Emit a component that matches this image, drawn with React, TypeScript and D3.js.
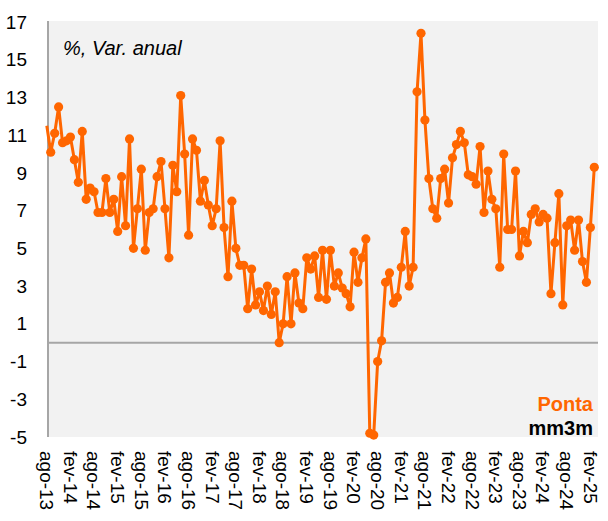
import { line, range, scaleLinear } from 'd3';

// monthly % y/y, ago-13 .. mar-25
const values: number[] = [
  11.5, 10.1, 11.1, 12.5, 10.6, 10.7, 10.9, 9.7, 8.5, 11.2,
  7.6, 8.2, 8.0, 6.9, 6.9, 8.7, 6.9, 7.6, 5.9, 8.8,
  6.2, 10.8, 5.0, 7.1, 9.2, 4.9, 6.9, 7.1, 8.8, 9.6,
  7.1, 4.5, 9.4, 8.0, 13.1, 10.0, 5.7, 10.8, 10.2, 7.5,
  8.6, 7.3, 6.2, 7.1, 10.7, 6.1, 3.5, 7.5, 5.0, 4.1,
  4.1, 1.8, 3.9, 2.0, 2.7, 1.7, 3.0, 1.5, 2.7, 0.0,
  1.0, 3.5, 1.0, 3.7, 2.1, 1.8, 4.5, 3.9, 4.6, 2.4,
  4.9, 2.3, 4.9, 3.0, 3.7, 2.9, 2.6, 1.9, 4.8, 3.2,
  4.5, 5.5, -4.8, -4.9, -1.0, 0.1, 3.2, 3.7, 2.1, 2.4,
  4.0, 5.9, 3.0, 4.0, 13.3, 16.4, 11.8, 8.7, 7.1, 6.6,
  8.7, 9.2, 7.4, 9.8, 10.5, 11.2, 10.6, 8.9, 8.8, 8.4,
  10.4, 6.9, 9.1, 7.6, 7.1, 4.0, 10.0, 6.0, 6.0, 9.1,
  4.6, 5.9, 5.3, 6.8, 7.1, 6.4, 6.8, 6.6, 2.6, 5.3,
  7.9, 2.0, 6.2, 6.5, 4.9, 6.5, 4.3, 3.2, 6.1, 9.3,
];

// one label every 6 months, starting at the first month
const tickLabels: string[] = [
  'ago-13', 'fev-14', 'ago-14', 'fev-15', 'ago-15', 'fev-16', 'ago-16', 'fev-17',
  'ago-17', 'fev-18', 'ago-18', 'fev-19', 'ago-19', 'fev-20', 'ago-20', 'fev-21',
  'ago-21', 'fev-22', 'ago-22', 'fev-23', 'ago-23', 'fev-24', 'ago-24', 'fev-25',
];

const yTicks: number[] = range(-5, 18, 2);

const W = 608;
const H = 521;
const plot = { left: 48, right: 598, top: 21, bottom: 437 };
const orange = '#ff6600';
const font = 'Arial, "Liberation Sans", sans-serif';

export default function App() {
  const x = scaleLinear().domain([0, values.length - 1]).range([46.8, 594.3]);
  const y = scaleLinear().domain([-5, 17]).range([plot.bottom, 22]);

  const path = line<number>()
    .x((_, i) => x(i))
    .y((d) => y(d))(values);

  return (
    <svg width={W} height={H} style={{ position: 'absolute', left: 0, top: 0 }} fontFamily={font}>
      <rect x={0} y={0} width={W} height={H} fill="#fff" />
      <rect
        x={plot.left}
        y={plot.top}
        width={plot.right - plot.left}
        height={plot.bottom - plot.top}
        fill="#f2f2f2"
      />
      {/* zero line */}
      <line x1={plot.left} x2={plot.right} y1={y(0)} y2={y(0)} stroke="#a6a6a6" strokeWidth={2} />
      {/* y axis line */}
      <line x1={plot.left} x2={plot.left} y1={plot.top} y2={plot.bottom} stroke="#a6a6a6" strokeWidth={2} />

      {yTicks.map((t) => (
        <text key={t} x={27} y={y(t)} dy="0.35em" textAnchor="end" fontSize={19} fill="#000">
          {t}
        </text>
      ))}

      {tickLabels.map((lab, k) => (
        <text
          key={lab}
          transform={`translate(${x(k * 6)},451) rotate(90)`}
          dy="0.35em"
          textAnchor="start"
          fontSize={19}
          fill="#000"
        >
          {lab}
        </text>
      ))}

      <path d={path ?? ''} fill="none" stroke={orange} strokeWidth={3} strokeLinejoin="round" />
      {values.map((v, i) =>
        i === 0 ? null : <circle key={i} cx={x(i)} cy={y(v)} r={4.6} fill={orange} />
      )}

      <text x={63} y={55} fontSize={20} fontStyle="italic" fill="#000">
        %, Var. anual
      </text>
      <text x={593} y={411} textAnchor="end" fontSize={20} fontWeight="bold" fill={orange}>
        Ponta
      </text>
      <text x={593} y={435} textAnchor="end" fontSize={20} fontWeight="bold" fill="#000">
        mm3m
      </text>
    </svg>
  );
}
